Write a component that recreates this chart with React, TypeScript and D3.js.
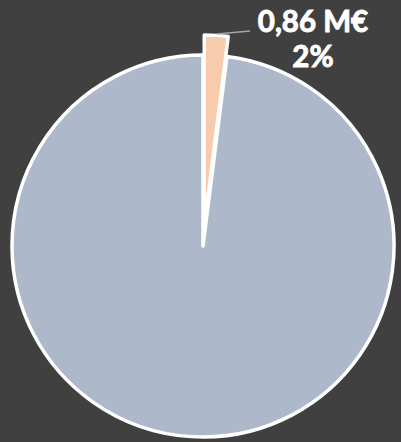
import React from "react";
import * as d3 from "d3";

const categories = ["Autres", "Part"];
const values = [42.1, 0.86];
const labelValues = ["", "0,86 M€"];
const colors = ["#ADB9CA", "#F8CBAD"];

const W = 401;
const H = 442;

export default function App() {
  const cx = 203;
  const cy = 246;
  const r = 191;
  const explode = 20;
  const order = [1, 0];
  const data = order.map((i) => ({ name: categories[i], value: values[i], color: colors[i], label: labelValues[i] }));
  const total = d3.sum(values);
  const pie = d3.pie<any>().sort(null).value((d: any) => d.value).startAngle(0).endAngle(2 * Math.PI);
  const arcs = pie(data);
  const arc = d3.arc<any>().innerRadius(0).outerRadius(r);

  const small = arcs[0];
  const big = arcs[1];
  const mid = (small.startAngle + small.endAngle) / 2;
  const dx = Math.sin(mid) * explode;
  const dy = -Math.cos(mid) * explode;
  const pct = d3.format(".0%")(small.data.value / total);

  const textProps = {
    textAnchor: "middle" as const,
    fill: "#FFFFFF",
    stroke: "#FFFFFF",
    strokeWidth: 0.9,
    fontFamily: "Lato, sans-serif",
    fontWeight: "bold",
    fontSize: 29.5,
  };

  return (
    <svg width={W} height={H} style={{ position: "absolute", left: 0, top: 0 }}>
      <rect width={W} height={H} fill="#404040" />
      <g transform={`translate(${cx},${cy})`}>
        <path d={arc(small) as string} fill="#FFFFFF" stroke="#FFFFFF" strokeWidth={3.5} />
        <path d={arc(big) as string} fill={big.data.color} stroke="#FFFFFF" strokeWidth={3.5} strokeLinejoin="round" />
        <g transform={`translate(${dx},${dy})`}>
          <path d={arc(small) as string} fill={small.data.color} stroke="#FFFFFF" strokeWidth={3.5} strokeLinejoin="round" />
        </g>
      </g>
      <line x1={217} y1={34} x2={250} y2={31} stroke="#A6A6A6" strokeWidth={1.5} />
      <text x={313} y={32} {...textProps}>
        {small.data.label}
      </text>
      <text x={313} y={67} {...textProps}>
        {pct}
      </text>
    </svg>
  );
}
